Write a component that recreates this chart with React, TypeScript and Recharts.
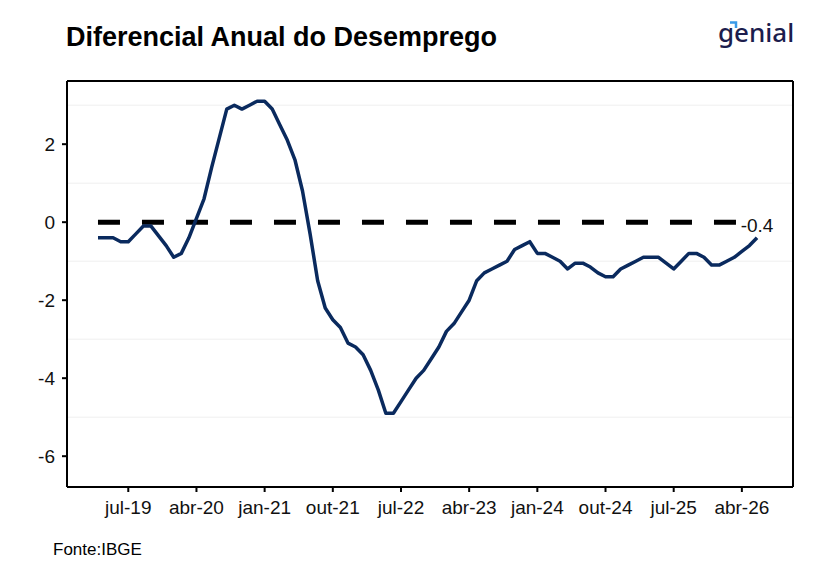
import React from 'react';
import {
  LineChart,
  Line,
  XAxis,
  YAxis,
  ReferenceLine,
} from 'recharts';

const FONT = '"Liberation Sans", Arial, sans-serif';

const monthNames = ['jan', 'fev', 'mar', 'abr', 'mai', 'jun', 'jul', 'ago', 'set', 'out', 'nov', 'dez'];

// mar-19 .. jun-26, one entry per month
const periods: string[] = Array.from({ length: 88 }, (_, i) => {
  const m = 2 + i;
  const year = 19 + Math.floor(m / 12);
  return `${monthNames[m % 12]}-${year}`;
});

const values = [
  -0.4, -0.4, -0.4, -0.5, -0.5, -0.3, -0.1, -0.1, -0.35, -0.6,
  -0.9, -0.8, -0.4, 0.1, 0.6, 1.4, 2.15, 2.9, 3.0, 2.9,
  3.0, 3.1, 3.1, 2.9, 2.5, 2.1, 1.6, 0.8, -0.3, -1.5,
  -2.2, -2.5, -2.7, -3.1, -3.2, -3.4, -3.8, -4.3, -4.9, -4.9,
  -4.6, -4.3, -4.0, -3.8, -3.5, -3.2, -2.8, -2.6, -2.3, -2.0,
  -1.5, -1.3, -1.2, -1.1, -1.0, -0.7, -0.6, -0.5, -0.8, -0.8,
  -0.9, -1.0, -1.2, -1.05, -1.05, -1.15, -1.3, -1.4, -1.4, -1.2,
  -1.1, -1.0, -0.9, -0.9, -0.9, -1.05, -1.2, -1.0, -0.8, -0.8,
  -0.9, -1.1, -1.1, -1.0, -0.9, -0.75, -0.6, -0.4,
];

const xTickLabels = ['jul-19', 'abr-20', 'jan-21', 'out-21', 'jul-22', 'abr-23', 'jan-24', 'out-24', 'jul-25', 'abr-26'];
const yTicks = [-6, -4, -2, 0, 2];
const gridValues = [3, 1, -1, -3, -5];
const yDomain = [-6.79, 3.62];
const xDomain = [-4.09, 91.75];

const data = periods.map((period, i) => ({ idx: i, period, value: values[i] }));
const xTicks = xTickLabels.map((l) => periods.indexOf(l));

function EndLabel(props: { x?: number; y?: number; index?: number; value?: number }) {
  const { x, y, index, value } = props;
  if (index !== data.length - 1 || x == null || y == null) return null;
  return (
    <text x={x} y={y - 6} textAnchor="middle" fontSize={19} fill="#111" fontFamily={FONT}>
      {value}
    </text>
  );
}

export default function App() {
  const tickStyle = { fontSize: 19, fill: '#111', fontFamily: FONT };
  const border = { stroke: '#000', strokeWidth: 2 };
  return (
    <div style={{ position: 'absolute', left: 0, top: 0, width: 819, height: 584, background: '#fff', fontFamily: FONT }}>
      <LineChart width={819} height={584} data={data} margin={{ top: 81, right: 26, left: 0, bottom: 57 }}>
        {gridValues.map((v) => (
          <ReferenceLine key={v} y={v} stroke="#efefef" strokeWidth={1} />
        ))}
        <XAxis
          dataKey="idx"
          type="number"
          domain={xDomain}
          allowDataOverflow
          ticks={xTicks}
          interval={0}
          tickFormatter={(i: number) => periods[i]}
          height={40}
          tick={tickStyle}
          tickSize={5}
          tickMargin={9}
          axisLine={border}
          tickLine={border}
        />
        <YAxis
          type="number"
          domain={yDomain}
          ticks={yTicks}
          allowDataOverflow
          width={67}
          tick={tickStyle}
          tickSize={5}
          tickMargin={7}
          axisLine={border}
          tickLine={border}
        />
        <ReferenceLine y={yDomain[1]} {...border} />
        <ReferenceLine x={xDomain[1]} {...border} />
        <ReferenceLine
          segment={[
            { x: 0, y: 0 },
            { x: data.length - 1, y: 0 },
          ]}
          stroke="#000"
          strokeWidth={5}
          strokeDasharray="22 22"
        />
        <Line
          type="linear"
          dataKey="value"
          stroke="#0a2a5e"
          strokeWidth={3.5}
          strokeLinejoin="round"
          dot={false}
          activeDot={false}
          isAnimationActive={false}
          label={<EndLabel />}
        />
      </LineChart>
      <svg width={819} height={584} style={{ position: 'absolute', left: 0, top: 0, pointerEvents: 'none' }}>
        <text x={66} y={46} fontSize={27} fontWeight="bold" fill="#000" fontFamily={FONT}>
          Diferencial Anual do Desemprego
        </text>
        <text x={53} y={555} fontSize={17} fill="#000" fontFamily={FONT}>
          Fonte:IBGE
        </text>
        <text x={718} y={42} fontSize={26} fontWeight={500} fill="#1c1d4d" fontFamily='"Noto Sans", sans-serif'>
          genial
        </text>
        <path d="M730 22.5 L736 22.5 L736 28" stroke="#3a9be8" strokeWidth={2.5} fill="none" />
      </svg>
    </div>
  );
}
